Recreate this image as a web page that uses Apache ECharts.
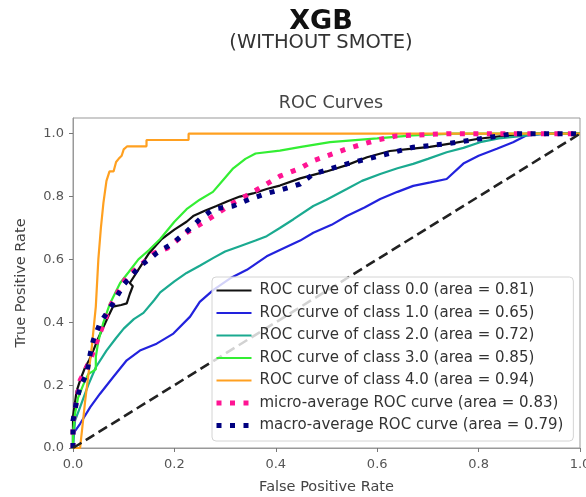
<!DOCTYPE html>
<html lang="en">
<head>
<meta charset="utf-8">
<title>XGB ROC Curves</title>
<style>
html, body { margin: 0; padding: 0; background: #fff; }
#chart { width: 586px; height: 497px; }
</style>
</head>
<body>
<div id="chart"></div>
<script src="https://cdn.jsdelivr.net/npm/echarts@6/dist/echarts.min.js"></script>
<script>
// tick values
var xTicks = [0, 0.2, 0.4, 0.6, 0.8, 1.0];
var yTicks = [0, 0.2, 0.4, 0.6, 0.8, 1.0];

var legendNames = [
    'ROC curve of class 0.0 (area = 0.81)',
    'ROC curve of class 1.0 (area = 0.65)',
    'ROC curve of class 2.0 (area = 0.72)',
    'ROC curve of class 3.0 (area = 0.85)',
    'ROC curve of class 4.0 (area = 0.94)',
    'micro-average ROC curve (area = 0.83)',
    'macro-average ROC curve (area = 0.79)'
];

// [fpr, tpr]
var class0 = [[0,0],[0,0.1],[0.007,0.18],[0.015,0.22],[0.024,0.257],[0.032,0.28],[0.04,0.31],[0.05,0.35],[0.06,0.385],
    [0.07,0.42],[0.079,0.45],[0.095,0.455],[0.106,0.46],[0.112,0.49],[0.118,0.515],[0.112,0.525],[0.13,0.57],[0.15,0.62],
    [0.175,0.665],[0.2,0.695],[0.224,0.72],[0.237,0.738],[0.26,0.755],[0.283,0.77],[0.305,0.785],[0.329,0.8],[0.355,0.81],
    [0.382,0.824],[0.408,0.835],[0.448,0.858],[0.5,0.88],[0.54,0.9],[0.58,0.925],[0.625,0.945],[0.665,0.952],[0.704,0.958],
    [0.75,0.97],[0.8,0.984],[0.85,0.993],[0.9,1],[1,1]];
var class1 = [[0,0],[0,0.045],[0.014,0.077],[0.034,0.13],[0.053,0.172],[0.079,0.225],[0.106,0.279],[0.132,0.31],[0.165,0.332],
    [0.198,0.364],[0.231,0.418],[0.25,0.465],[0.277,0.503],[0.31,0.54],[0.343,0.567],[0.382,0.61],[0.408,0.63],[0.448,0.66],
    [0.474,0.685],[0.51,0.71],[0.54,0.738],[0.575,0.765],[0.606,0.792],[0.64,0.815],[0.671,0.834],[0.705,0.845],[0.737,0.856],
    [0.77,0.905],[0.8,0.93],[0.836,0.952],[0.868,0.973],[0.895,0.995],[0.934,1],[1,1]];
var class2 = [[0,0],[0.004,0.087],[0.014,0.13],[0.03,0.2],[0.045,0.257],[0.066,0.31],[0.085,0.35],[0.1,0.38],[0.12,0.41],
    [0.139,0.43],[0.16,0.47],[0.172,0.495],[0.2,0.53],[0.224,0.557],[0.25,0.58],[0.277,0.605],[0.3,0.625],[0.329,0.642],
    [0.36,0.66],[0.382,0.674],[0.408,0.7],[0.435,0.728],[0.474,0.77],[0.5,0.79],[0.54,0.824],[0.57,0.85],[0.606,0.872],
    [0.64,0.89],[0.671,0.904],[0.7,0.92],[0.737,0.941],[0.77,0.955],[0.803,0.973],[0.84,0.985],[0.868,0.99],[0.93,1],[1,1]];
var class3 = [[0,0],[0,0.05],[0.004,0.11],[0.01,0.16],[0.02,0.2],[0.03,0.235],[0.045,0.25],[0.045,0.29],[0.05,0.34],
    [0.06,0.4],[0.073,0.46],[0.093,0.525],[0.11,0.56],[0.129,0.6],[0.15,0.63],[0.172,0.665],[0.2,0.72],[0.224,0.76],
    [0.25,0.79],[0.276,0.815],[0.3,0.86],[0.316,0.89],[0.34,0.92],[0.36,0.937],[0.408,0.946],[0.45,0.958],[0.507,0.973],
    [0.6,0.985],[0.67,0.995],[0.75,1],[1,1]];
var class4 = [[0,0],[0.014,0],[0.024,0.15],[0.037,0.32],[0.045,0.45],[0.05,0.6],[0.055,0.7],[0.06,0.78],[0.066,0.85],
    [0.072,0.88],[0.08,0.88],[0.085,0.91],[0.09,0.92],[0.096,0.93],[0.1,0.95],[0.107,0.96],[0.145,0.96],[0.145,0.98],
    [0.228,0.98],[0.228,1],[1,1]];
var microAvg = [[0,0],[0,0.08],[0.007,0.15],[0.014,0.215],[0.034,0.28],[0.053,0.365],[0.073,0.45],[0.09,0.5],[0.106,0.545],
    [0.132,0.58],[0.16,0.62],[0.185,0.635],[0.224,0.685],[0.277,0.738],[0.316,0.78],[0.35,0.81],[0.382,0.84],[0.408,0.865],
    [0.448,0.89],[0.474,0.914],[0.54,0.952],[0.6,0.98],[0.638,0.993],[0.737,1],[1,1]];
var macroAvg = [[0,0],[0,0.087],[0.007,0.15],[0.014,0.193],[0.027,0.236],[0.034,0.3],[0.04,0.343],[0.053,0.396],[0.079,0.46],
    [0.1,0.52],[0.132,0.578],[0.165,0.62],[0.198,0.653],[0.225,0.69],[0.25,0.728],[0.277,0.76],[0.316,0.77],[0.349,0.792],
    [0.382,0.81],[0.415,0.824],[0.448,0.84],[0.474,0.872],[0.54,0.904],[0.606,0.93],[0.671,0.957],[0.737,0.968],[0.803,0.984],
    [0.868,1],[1,1]];
var chance = [[0,0],[1,1]];

var FONT = 'DejaVu Sans';

function roc(name, data, color, width, type) {
    return {
        name: name,
        type: 'line',
        data: data,
        symbol: 'none',
        silent: true,
        lineStyle: { color: color, width: width, type: type, cap: 'butt' },
        itemStyle: { color: color }
    };
}

var myChart = echarts.init(document.getElementById('chart'));

var option = {
    animation: false,
    backgroundColor: '#fff',
    title: [
        { text: 'XGB', left: 316, top: 3, textAlign: 'center',
          textStyle: { fontFamily: FONT, fontSize: 27, fontWeight: 'bold', color: '#111' } },
        { text: '(WITHOUT SMOTE)', left: 316, top: 28, textAlign: 'center',
          textStyle: { fontFamily: FONT, fontSize: 19.5, fontWeight: 'normal', color: '#333' } },
        { text: 'ROC Curves', left: 326, top: 89, textAlign: 'center',
          textStyle: { fontFamily: FONT, fontSize: 17.5, fontWeight: 'normal', color: '#444' } }
    ],
    grid: {
        left: 73, right: 6, top: 118, bottom: 49,
        outerBoundsMode: 'none', containLabel: false,
        show: true, borderColor: '#999', borderWidth: 1, backgroundColor: '#fff'
    },
    legend: {
        data: legendNames,
        orient: 'vertical',
        left: 212, top: 277,
        itemWidth: 35, itemHeight: 14, itemGap: 7.5,
        padding: [6, 10, 8, 2],
        backgroundColor: 'rgba(255,255,255,0.8)',
        borderColor: '#d4d4d4', borderWidth: 1, borderRadius: 4,
        selectedMode: false,
        itemStyle: { opacity: 0 },
        lineStyle: { width: 'inherit' },
        textStyle: { fontFamily: FONT, fontSize: 15, lineHeight: 15, color: '#333', padding: [0, 0, 0, 3] }
    },
    xAxis: {
        type: 'value', min: 0, max: 1, interval: 0.2,
        name: 'False Positive Rate', nameLocation: 'middle', nameGap: 32,
        nameTextStyle: { fontFamily: FONT, fontSize: 14.5, color: '#444' },
        axisLine: { show: true, onZero: false, lineStyle: { color: '#999', width: 1 } },
        axisTick: { show: true, length: 4, customValues: xTicks, lineStyle: { color: '#777' } },
        axisLabel: { customValues: xTicks, margin: 10, fontFamily: FONT, fontSize: 13, color: '#555',
            formatter: function (v) { return v.toFixed(1); } },
        splitLine: { show: false }
    },
    yAxis: {
        type: 'value', min: 0, max: 1.05, interval: 0.2,
        name: 'True Positive Rate', nameLocation: 'middle', nameGap: 44,
        nameTextStyle: { fontFamily: FONT, fontSize: 14.5, color: '#444' },
        axisLine: { show: true, onZero: false, lineStyle: { color: '#999', width: 1 } },
        axisTick: { show: true, length: 4, customValues: yTicks, lineStyle: { color: '#777' } },
        axisLabel: { customValues: yTicks, margin: 9, fontFamily: FONT, fontSize: 13, color: '#555',
            formatter: function (v) { return v.toFixed(1); } },
        splitLine: { show: false }
    },
    series: [
        roc(legendNames[0], class0, '#111111', 2.2, 'solid'),
        roc(legendNames[1], class1, '#2222dd', 2.2, 'solid'),
        roc(legendNames[2], class2, '#1aaa90', 2.2, 'solid'),
        roc(legendNames[3], class3, '#33ee33', 2.2, 'solid'),
        roc(legendNames[4], class4, '#ffa020', 2.2, 'solid'),
        roc(legendNames[5], microAvg, '#ff1493', 5, [5, 8.5]),
        roc(legendNames[6], macroAvg, '#000080', 5, [5, 8.5]),
        roc('chance', chance, '#222222', 2.6, [10, 5])
    ]
};
myChart.setOption(option);
</script>
</body>
</html>
